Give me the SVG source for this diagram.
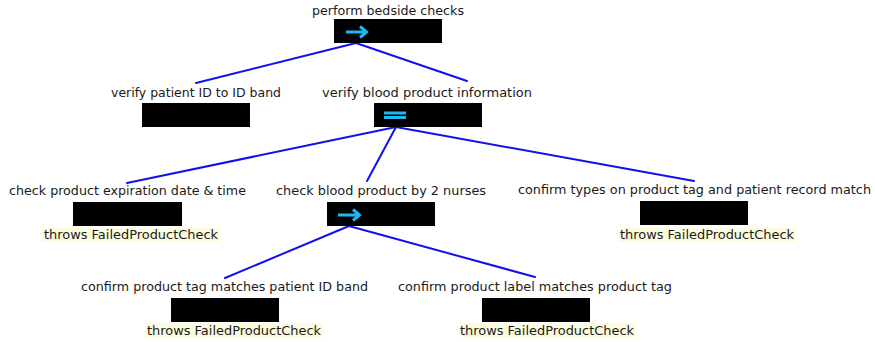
<svg xmlns="http://www.w3.org/2000/svg" width="875" height="342" viewBox="0 0 875 342">
<style>
text{font-family:"DejaVu Sans","Open Sans","Liberation Sans",sans-serif;font-size:12.5px;fill:#1a1a1a;text-anchor:middle}
.box{fill:#000}
.op{stroke:#1cb8f0;stroke-width:3;fill:none}
.ex{fill:#fdfbde}
.conn line{stroke:#1010f0;stroke-width:2;stroke-linecap:round}
</style>
<rect width="875" height="342" fill="#fff"/>
<g class="conn" id="connectors">
<line x1="356" y1="43" x2="196" y2="83"/>
<line x1="356" y1="43" x2="467" y2="81"/>
<line x1="396" y1="127" x2="127" y2="183"/>
<line x1="396" y1="127" x2="367" y2="181"/>
<line x1="396" y1="127" x2="694" y2="181"/>
<line x1="349" y1="226" x2="225" y2="278"/>
<line x1="349" y1="226" x2="535" y2="277"/>
</g>
<g id="root">
<text x="388" y="15" textLength="152" lengthAdjust="spacingAndGlyphs">perform bedside checks</text>
<rect class="box" x="334" y="19" width="108" height="24"/>
<path class="op" d="M346 32H366M360 26.5L366.5 32L360 37.5"/>
</g>
<g id="verify-patient">
<text x="196" y="97" textLength="170" lengthAdjust="spacingAndGlyphs">verify patient ID to ID band</text>
<rect class="box" x="142" y="103" width="108" height="24"/>
</g>
<g id="verify-blood">
<text x="427" y="97" textLength="210" lengthAdjust="spacingAndGlyphs">verify blood product information</text>
<rect class="box" x="374" y="103" width="108" height="24"/>
<path class="op" d="M384 113H406M384 117.5H406" stroke-width="2"/>
</g>
<g id="check-expiration">
<text x="127.5" y="195" textLength="237" lengthAdjust="spacingAndGlyphs">check product expiration date &amp; time</text>
<rect class="box" x="73" y="202" width="109" height="24"/>
<rect class="ex" x="42" y="228" width="177" height="14"/>
<text x="131" y="239" textLength="174" lengthAdjust="spacingAndGlyphs">throws FailedProductCheck</text>
</g>
<g id="check-blood">
<text x="381" y="195" textLength="210" lengthAdjust="spacingAndGlyphs">check blood product by 2 nurses</text>
<rect class="box" x="327" y="202" width="108" height="24"/>
<path class="op" d="M338 215H359M353 209.5L359.5 215L353 220.5"/>
</g>
<g id="confirm-types">
<text x="694.5" y="194" textLength="353" lengthAdjust="spacingAndGlyphs">confirm types on product tag and patient record match</text>
<rect class="box" x="640" y="201" width="108" height="24"/>
<rect class="ex" x="619" y="228" width="176" height="14"/>
<text x="707" y="239" textLength="174" lengthAdjust="spacingAndGlyphs">throws FailedProductCheck</text>
</g>
<g id="confirm-tag">
<text x="224.5" y="291" textLength="287" lengthAdjust="spacingAndGlyphs">confirm product tag matches patient ID band</text>
<rect class="box" x="171" y="298" width="108" height="24"/>
<rect class="ex" x="145" y="323" width="178" height="14"/>
<text x="234" y="335" textLength="174" lengthAdjust="spacingAndGlyphs">throws FailedProductCheck</text>
</g>
<g id="confirm-label">
<text x="535" y="291" textLength="274" lengthAdjust="spacingAndGlyphs">confirm product label matches product tag</text>
<rect class="box" x="482" y="298" width="108" height="24"/>
<rect class="ex" x="459" y="323" width="176" height="14"/>
<text x="547" y="335" textLength="174" lengthAdjust="spacingAndGlyphs">throws FailedProductCheck</text>
</g>
</svg>
